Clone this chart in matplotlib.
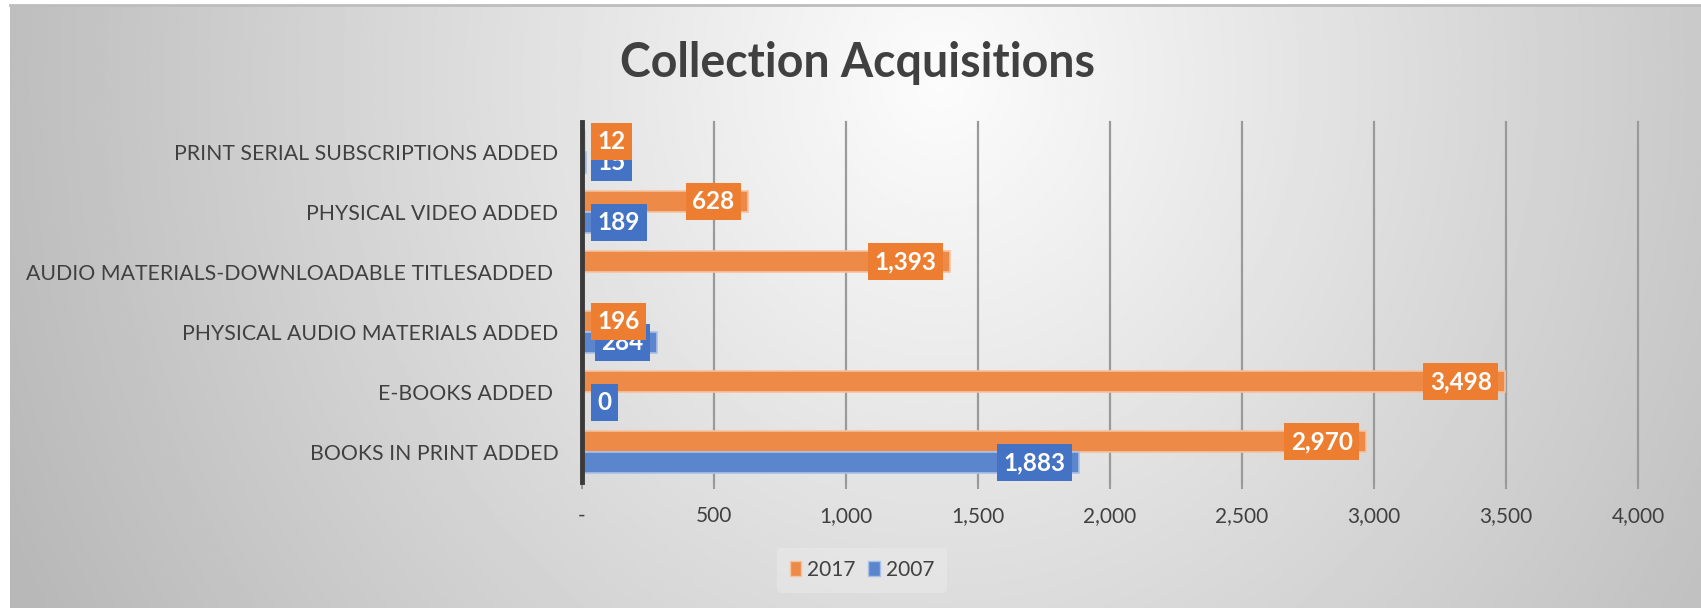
import numpy as np
import matplotlib
matplotlib.use("Agg")
import matplotlib.pyplot as plt
from matplotlib.patches import Patch

plt.rcParams['font.family'] = ['Lato', 'DejaVu Sans']

# chart data (bottom -> top, as drawn)
categories = ['BOOKS IN PRINT ADDED', 'E-BOOKS ADDED ', 'PHYSICAL AUDIO MATERIALS ADDED',
              'AUDIO MATERIALS-DOWNLOADABLE TITLESADDED ', 'PHYSICAL VIDEO ADDED',
              'PRINT SERIAL SUBSCRIPTIONS ADDED']
values_2017 = [2970, 3498, 196, 1393, 628, 12]
values_2007 = [1883, 0, 284, np.nan, 189, 15]
series_names = ['2017', '2007']
x_ticks = [0, 500, 1000, 1500, 2000, 2500, 3000, 3500, 4000]
x_tick_labels = ['-', '500', '1,000', '1,500', '2,000', '2,500', '3,000', '3,500', '4,000']

orange = '#ED7D31'
blue = '#4472C4'
text_col = '#404040'

W, H = 1701, 608
fig = plt.figure(figsize=(W / 100, H / 100), dpi=100)
fig.patch.set_facecolor('white')

# background gradient
bg = fig.add_axes([10 / W, 0, 1 - 10 / W, 1 - 6 / H], zorder=-10)
yy, xx = np.mgrid[0:1:300j, 0:1:800j]
r = np.sqrt(((xx - 0.55) / 0.55) ** 2 + ((yy - 0.12) / 1.7) ** 2)
shade = np.clip(252 - 62 * np.clip(r, 0, 1.1), 180, 252) / 255
bg.imshow(shade, cmap='gray', vmin=0, vmax=1, aspect='auto', extent=[0, 1, 1, 0])
bg.axis('off')
fig.add_artist(plt.Line2D([10 / W, 1], [1 - 5 / H, 1 - 5 / H], color='#bdbdbd', lw=2))

ax = fig.add_axes([582 / W, 1 - 482 / H, (1638 - 582) / W, 360 / H])
ax.set_facecolor('none')

y = np.arange(len(categories))
bh = 0.35
ax.barh(y + bh / 2, values_2017, height=bh, color='#EE8A48', edgecolor='#F6C29F', lw=1.2, zorder=3)
ax.barh(y - bh / 2, values_2007, height=bh, color='#5B86CD', edgecolor='#A9C0E6', lw=1.2, zorder=3)

ax.set_xlim(0, 4000)
ax.set_ylim(-0.5, len(categories) - 0.5)
ax.set_xticks(x_ticks)
ax.set_xticklabels(x_tick_labels)
ax.set_yticks(y)
ax.set_yticklabels(categories)
ax.tick_params(axis='y', length=0, pad=17, labelsize=15.3, labelcolor=text_col)
ax.tick_params(axis='x', length=5, width=1.5, color='#9a9a9a', pad=12, labelsize=15, labelcolor=text_col)
ax.grid(axis='x', color='#9a9a9a', lw=1.6, zorder=1)
for gl in ax.get_xgridlines():
    gl.set_clip_on(False)
for s in ['top', 'right', 'bottom']:
    ax.spines[s].set_visible(False)
ax.spines['left'].set_color('#3a3a3a')
ax.spines['left'].set_linewidth(3.5)
ax.spines['left'].set_zorder(5)

# data labels
fs = 17.5
pad = 0.27
pad_px = pad * fs * 100 / 72
labels = []
for vals, off, col, z in [(values_2007, -bh / 2, blue, 6), (values_2017, bh / 2, orange, 7)]:
    for i, v in enumerate(vals):
        if np.isnan(v):
            continue
        t = ax.annotate(f'{int(v):,}', xy=(v, i + off), xytext=(-7 - pad_px, 0),
                        textcoords='offset pixels', ha='right', va='center',
                        fontsize=fs, fontweight='bold', color='white', zorder=z,
                        bbox=dict(boxstyle=f'square,pad={pad}', fc=col, ec='none'))
        labels.append((t, v, i + off))

fig.canvas.draw()
renderer = fig.canvas.get_renderer()
ax_left = ax.get_window_extent().x0
for t, v, yp in labels:
    bb = t.get_window_extent(renderer)
    if bb.x0 - pad_px < ax_left + 9:
        t.xy = (0, yp)
        t.set_position((9 + pad_px, 0))
        t.set_ha('left')

fig.text(857 / W, 1 - 77 / H, 'Collection Acquisitions', ha='center', va='baseline',
         fontsize=33.5, fontweight='bold', color=text_col)

handles = [Patch(fc='#EE8A48', ec='#F6C29F'), Patch(fc='#5B86CD', ec='#A9C0E6')]
leg = fig.legend(handles, series_names, loc='center', bbox_to_anchor=(862 / W, 1 - 570 / H),
                 ncol=2, frameon=True, fontsize=15, handlelength=0.55, handleheight=0.75,
                 handletextpad=0.3, columnspacing=0.6, borderpad=0.6)
leg.get_frame().set_facecolor('#efefef')
leg.get_frame().set_edgecolor('none')
leg.get_frame().set_alpha(0.4)
for txt in leg.get_texts():
    txt.set_color(text_col)

fig.savefig('out.png', dpi=100)
